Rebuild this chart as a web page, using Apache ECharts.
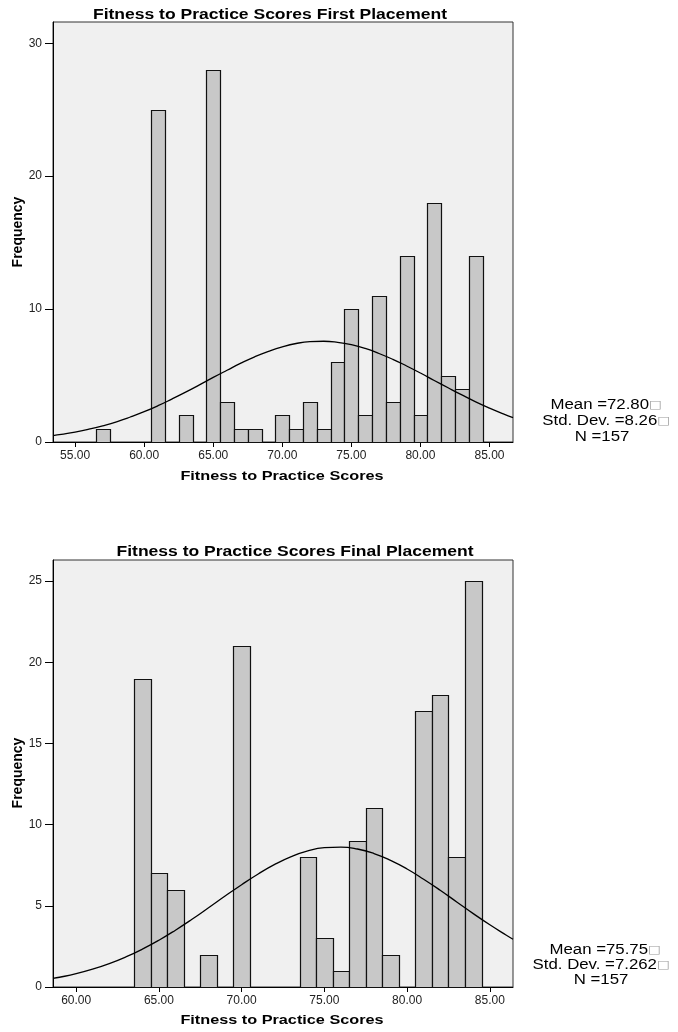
<!DOCTYPE html>
<html>
<head>
<meta charset="utf-8">
<script src="https://cdn.jsdelivr.net/npm/echarts@6/dist/echarts.min.js"></script>
<style>html,body{margin:0;padding:0;background:#fff;}#c{width:678px;height:1032px;}</style>
</head>
<body>
<div id="c"></div>
<script>
// ---- First placement ----
const firstScores = [57, 61, 63, 65, 66, 67, 68, 70, 71, 72, 73, 74, 75, 76, 77, 78, 79, 80, 81, 82, 83, 84];
const firstCounts = [1, 25, 2, 28, 3, 1, 1, 2, 1, 3, 1, 6, 10, 2, 11, 3, 14, 2, 18, 5, 4, 14];
const firstCurveX = [53.4, 54, 55, 56, 57, 58, 59, 60, 61, 62, 63, 64, 65, 66, 67, 68, 69, 70, 71, 72, 73, 74, 75, 76, 77, 78, 79, 80, 81, 82, 83, 84, 85, 86, 86.7];
const firstCurveY = [0.48, 0.57, 0.74, 0.96, 1.22, 1.52, 1.88, 2.28, 2.73, 3.23, 3.75, 4.30, 4.86, 5.40, 5.93, 6.41, 6.82, 7.16, 7.41, 7.55, 7.58, 7.50, 7.32, 7.04, 6.66, 6.22, 5.72, 5.19, 4.63, 4.08, 3.54, 3.02, 2.55, 2.12, 1.84];
const firstXTicks = [55, 60, 65, 70, 75, 80, 85];
const firstYTicks = [0, 10, 20, 30];
const firstStats = ['Mean =72.80', 'Std. Dev. =8.26', 'N =157'];

// ---- Final placement ----
const finalScores = [64, 65, 66, 68, 70, 74, 75, 76, 77, 78, 79, 81, 82, 83, 84];
const finalCounts = [19, 7, 6, 2, 21, 8, 3, 1, 9, 11, 2, 17, 18, 8, 25];
const finalCurveX = [58.6, 59, 60, 61, 62, 63, 64, 65, 66, 67, 68, 69, 70, 71, 72, 73, 74, 75, 76, 77, 78, 79, 80, 81, 82, 83, 84, 85, 86, 86.4];
const finalCurveY = [0.53, 0.60, 0.82, 1.10, 1.44, 1.85, 2.33, 2.88, 3.50, 4.17, 4.88, 5.60, 6.30, 6.96, 7.55, 8.03, 8.38, 8.58, 8.62, 8.50, 8.22, 7.80, 7.27, 6.64, 5.96, 5.24, 4.52, 3.83, 3.19, 2.94];
const finalXTicks = [60, 65, 70, 75, 80, 85];
const finalYTicks = [0, 5, 10, 15, 20, 25];
const finalStats = ['Mean =75.75', 'Std. Dev. =7.262', 'N =157'];

const titles = ['Fitness to Practice Scores First Placement', 'Fitness to Practice Scores Final Placement'];
const xName = 'Fitness to Practice Scores';
const yName = 'Frequency';

const FONT = '"Liberation Sans", Arial, sans-serif';

function pairs(xs, ys) { return xs.map((x, i) => [x, ys[i]]); }

function renderBars(params, api) {
  const x = api.value(0), y = api.value(1);
  const p0 = api.coord([x - 0.5, y]);
  const p1 = api.coord([x + 0.5, 0]);
  return {
    type: 'rect',
    shape: { x: Math.round(p0[0]) + 0.5, y: Math.round(p0[1]) + 0.5, width: Math.round(p1[0]) - Math.round(p0[0]), height: Math.round(p1[1]) - Math.round(p0[1]) },
    style: { fill: '#c8c8c8', stroke: '#111', lineWidth: 1.2 }
  };
}

function xAxisCfg(gi, min, max, ticks) {
  return {
    gridIndex: gi, type: 'value', min: min, max: max,
    axisLine: { show: true, onZero: false, lineStyle: { color: '#000', width: 1 } },
    axisTick: { show: true, length: 5, customValues: ticks, lineStyle: { color: '#000' } },
    axisLabel: { customValues: ticks, formatter: v => v.toFixed(2), color: '#222', fontSize: 12, fontFamily: FONT, margin: 8 },
    splitLine: { show: false }
  };
}
function yAxisCfg(gi, max, ticks) {
  return {
    gridIndex: gi, type: 'value', min: 0, max: max,
    axisLine: { show: true, lineStyle: { color: '#000', width: 1 } },
    axisTick: { show: true, length: 8, customValues: ticks, lineStyle: { color: '#000' } },
    axisLabel: { customValues: ticks, color: '#222', fontSize: 12, fontFamily: FONT, margin: 11 },
    splitLine: { show: false }
  };
}

function txt(x, y, text, size, opts) {
  opts = opts || {};
  return {
    type: 'text', x: x, y: y, rotation: opts.rotation || 0, scaleX: opts.scaleX || 1, z: 100,
    style: { x: 0, y: 0, text: text, fill: '#000', font: (opts.bold ? 'bold ' : '') + size + 'px ' + FONT, align: 'center', verticalAlign: 'middle' }
  };
}
function statText(x, y, text, withBox) {
  return {
    type: 'text', x: x, y: y, scaleX: 1.2, z: 100,
    style: {
      x: 0, y: 0, text: withBox ? '{a|' + text + '}{b|□}' : '{a|' + text + '}',
      align: 'center', verticalAlign: 'middle',
      rich: { a: { fontSize: 14, fontFamily: FONT, fill: '#000' }, b: { fontSize: 11, fontFamily: '"DejaVu Sans", sans-serif', fill: '#999' } }
    }
  };
}

const chart = echarts.init(document.getElementById('c'), null, { renderer: 'canvas' });
chart.setOption({
  animation: false,
  backgroundColor: '#fff',
  grid: [
    { left: 53, top: 22, width: 460, height: 420, show: true, backgroundColor: '#f0f0f0', borderColor: '#333', borderWidth: 1 },
    { left: 53, top: 560, width: 460, height: 427, show: true, backgroundColor: '#f0f0f0', borderColor: '#333', borderWidth: 1 }
  ],
  xAxis: [xAxisCfg(0, 53.4, 86.7, firstXTicks), xAxisCfg(1, 58.6, 86.4, finalXTicks)],
  yAxis: [yAxisCfg(0, 31.6, firstYTicks), yAxisCfg(1, 26.3, finalYTicks)],
  series: [
    { type: 'custom', xAxisIndex: 0, yAxisIndex: 0, renderItem: renderBars, data: pairs(firstScores, firstCounts), z: 2 },
    { type: 'line', xAxisIndex: 0, yAxisIndex: 0, data: pairs(firstCurveX, firstCurveY), smooth: true, showSymbol: false, lineStyle: { color: '#000', width: 1.3 }, z: 5 },
    { type: 'custom', xAxisIndex: 1, yAxisIndex: 1, renderItem: renderBars, data: pairs(finalScores, finalCounts), z: 2 },
    { type: 'line', xAxisIndex: 1, yAxisIndex: 1, data: pairs(finalCurveX, finalCurveY), smooth: true, showSymbol: false, lineStyle: { color: '#000', width: 1.3 }, z: 5 }
  ],
  graphic: [
    txt(270, 15, titles[0], 14, { bold: true, scaleX: 1.25 }),
    txt(295, 552, titles[1], 14, { bold: true, scaleX: 1.25 }),
    txt(282, 476, xName, 13, { bold: true, scaleX: 1.25 }),
    txt(282, 1020, xName, 13, { bold: true, scaleX: 1.25 }),
    txt(18, 232, yName, 14, { bold: true, rotation: Math.PI / 2 }),
    txt(18, 773, yName, 14, { bold: true, rotation: Math.PI / 2 }),
    statText(606, 405, firstStats[0], true),
    statText(606, 421.5, firstStats[1], true),
    statText(602, 437, firstStats[2], false),
    statText(605, 950, finalStats[0], true),
    statText(601, 965.5, finalStats[1], true),
    statText(601, 980.5, finalStats[2], false)
  ]
});
</script>
</body>
</html>
